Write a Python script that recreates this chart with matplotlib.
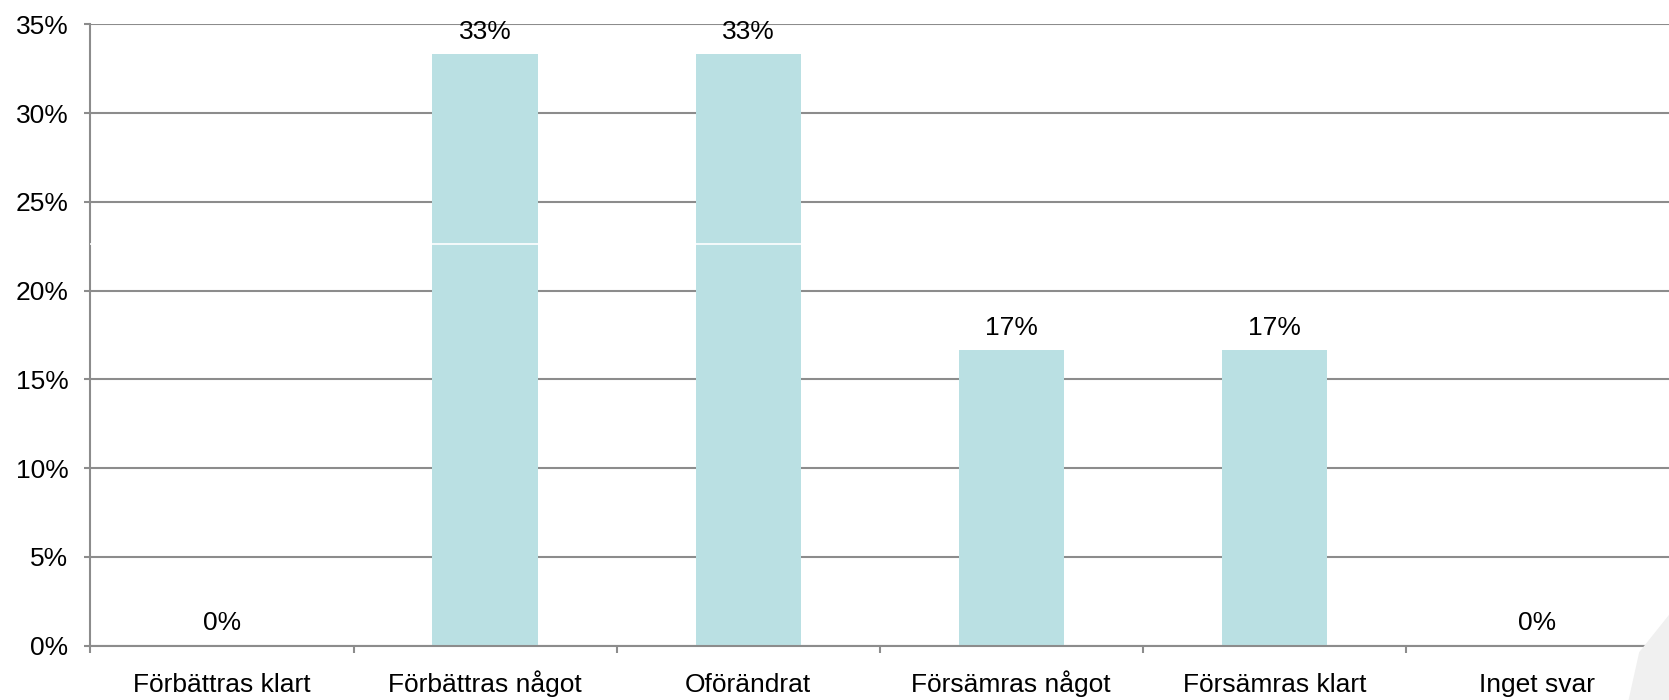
import matplotlib
matplotlib.use('Agg')

import matplotlib.pyplot as plt
import matplotlib.ticker as ticker
import matplotlib.patches as mpatches
import numpy as np

# -----------------------------
# STYLE
# -----------------------------
plt.rcParams.update({
    'font.family': ['Liberation Sans', 'DejaVu Sans'],
    'font.size': 19,
})

# -----------------------------
# DATA
# -----------------------------
categories = ['Förbättras klart', 'Förbättras något', 'Oförändrat',
              'Försämras något', 'Försämras klart', 'Inget svar']
shares = [0.0, 33.33, 33.33, 16.67, 16.67, 0.0]
labels = ['0%', '33%', '33%', '17%', '17%', '0%']

bar_color = '#bae0e3'
grid_color = '#8c8c8c'

# -----------------------------
# FIGURE
# -----------------------------
# layout measured on a 1568 x 658 view of the reference
DW, DH = 1568.0, 658.0
fig = plt.figure(figsize=(16.69, 7.0), dpi=100)
ax = fig.add_axes([85 / DW, (DH - 607) / DH, 1 - 85 / DW, (607 - 23) / DH])

x = np.arange(len(categories))
ax.bar(x, shares, width=0.4, color=bar_color, zorder=2)

# value labels
for xi, v, lab in zip(x, shares, labels):
    ax.annotate(lab, (xi, v), xytext=(0, 11), textcoords='offset points',
                ha='center', va='baseline')

# thin white line artefact across bars
ax.axhline(22.63, color='white', linewidth=1.2, zorder=3)

# axes limits (last category is cut by the right edge)
ax.set_ylim(0, 35)
ax.set_xlim(-0.5, 5.45)

# y axis
ax.yaxis.set_major_locator(ticker.MultipleLocator(5))
ax.yaxis.set_major_formatter(ticker.FuncFormatter(lambda v, p: f'{v:.0f}%'))
ax.grid(axis='y', color=grid_color, linewidth=1.5, zorder=1)
ax.tick_params(axis='y', length=4, width=1.5, color=grid_color, pad=12)

# x axis: boundary ticks, labels centred
ax.set_xticks(np.arange(len(categories) + 1) - 0.5)
ax.set_xticklabels([])
ax.set_xticks(x, minor=True)
ax.set_xticklabels(categories, minor=True, va='baseline')
ax.tick_params(axis='x', which='major', length=5, width=1.5, color=grid_color)
ax.tick_params(axis='x', which='minor', length=0, pad=33)

for s in ['top', 'right']:
    ax.spines[s].set_visible(False)
for s in ['left', 'bottom']:
    ax.spines[s].set_color(grid_color)
    ax.spines[s].set_linewidth(1.5)

# faint watermark shape bottom right
wm = mpatches.Polygon([(1530 / DW, 0), (1540 / DW, 45 / DH), (1568 / DW, 80 / DH),
                       (1, 0)], closed=True, transform=fig.transFigure,
                      facecolor='#f0f0f0', edgecolor='none', zorder=0)
fig.patches.append(wm)

plt.savefig('out.png', dpi=100)
plt.close()
